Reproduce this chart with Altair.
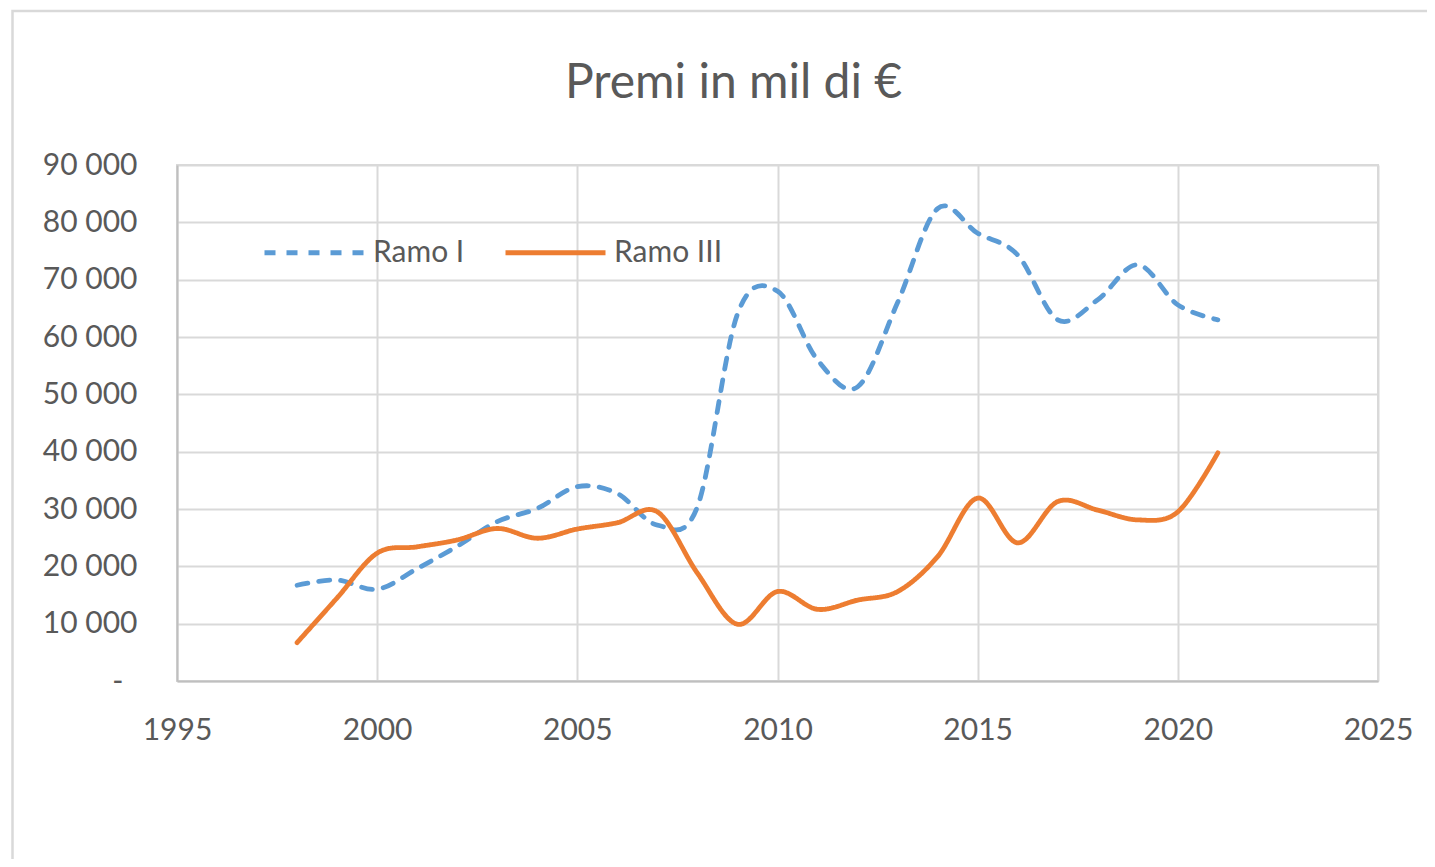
import altair as alt
import pandas as pd

years = list(range(1998, 2022))
ramo_i = [16700, 17600, 16000, 19600, 23500, 27800, 30100, 33900, 32700, 27200, 30400, 64000,
          68000, 56000, 51300, 66000, 82400, 78100, 74300, 63000, 66500, 72600, 65600, 63000]
ramo_iii = [6700, 14500, 22300, 23400, 24600, 26600, 24900, 26500, 27600, 29500, 18800, 9900,
            15600, 12500, 14100, 15600, 21700, 31900, 24100, 31300, 29800, 28100, 29500, 39800]
series_names = ["Ramo I", "Ramo III"]

rows = []
for y, a, b in zip(years, ramo_i, ramo_iii):
    rows.append({"anno": y, "serie": series_names[0], "premi": a})
    rows.append({"anno": y, "serie": series_names[1], "premi": b})
df = pd.DataFrame(rows)

FONT = "Lato"
GREY = "#595959"

lines = alt.Chart(df).mark_line(
    interpolate="cardinal", strokeWidth=4.8, strokeCap="round"
).encode(
    x=alt.X("anno:Q", scale=alt.Scale(domain=[1995, 2025], nice=False),
            axis=alt.Axis(values=[1995, 2000, 2005, 2010, 2015, 2020, 2025], format="d",
                          title=None, tickSize=0, labelPadding=34, grid=True, labelFlush=False)),
    y=alt.Y("premi:Q", scale=alt.Scale(domain=[0, 90000], nice=False),
            axis=alt.Axis(values=list(range(0, 90001, 10000)), title=None, tickSize=0,
                          labelPadding={"condition": {"test": "datum.value == 0", "value": 54}, "value": 40},
                          grid=True,
                          labelExpr="datum.value == 0 ? '-' : replace(format(datum.value, ',d'), ',', ' ')")),
    color=alt.Color("serie:N", scale=alt.Scale(domain=series_names, range=["#5B9BD5", "#ED7D31"]),
                    legend=alt.Legend(title=None, orient="none", legendX=85, legendY=35,
                                      direction="horizontal", symbolType="stroke",
                                      symbolSize=10000, symbolStrokeWidth=4.8,
                                      labelFontSize=30, labelFont=FONT, labelColor=GREY,
                                      labelOffset=6, columnPadding=30)),
    strokeDash=alt.StrokeDash("serie:N", scale=alt.Scale(domain=series_names, range=[[11, 11], [1, 0]]),
                              legend=None),
)

border_df = pd.DataFrame({"k": [0]})
border = alt.Chart(border_df).mark_rect(fill=None, stroke="#d9d9d9", strokeWidth=2.5, clip=False).encode(
    x=alt.value(-164.5), x2=alt.value(1300), y=alt.value(-154), y2=alt.value(800)
)

chart = alt.layer(border, lines).properties(
    width=1201, height=516,
    padding={"left": 169, "top": 157, "right": 49, "bottom": 178},
    autosize=alt.AutoSizeParams(type="none"),
    title=alt.TitleParams("Premi in mil di €", font=FONT, fontSize=48, fontWeight="normal",
                          color=GREY, anchor="middle", dx=-44, offset=-136, baseline="alphabetic"),
).configure_view(
    stroke="#d9d9d9", strokeWidth=2
).configure_axis(
    gridColor="#d9d9d9", gridWidth=2, domainColor="#bfbfbf", domainWidth=2,
    labelFont=FONT, labelFontSize=30, labelColor=GREY
).configure_legend(
    symbolStrokeColor="#5B9BD5"
)

chart.save("out.html", embed_options={"renderer": "svg", "actions": False})
